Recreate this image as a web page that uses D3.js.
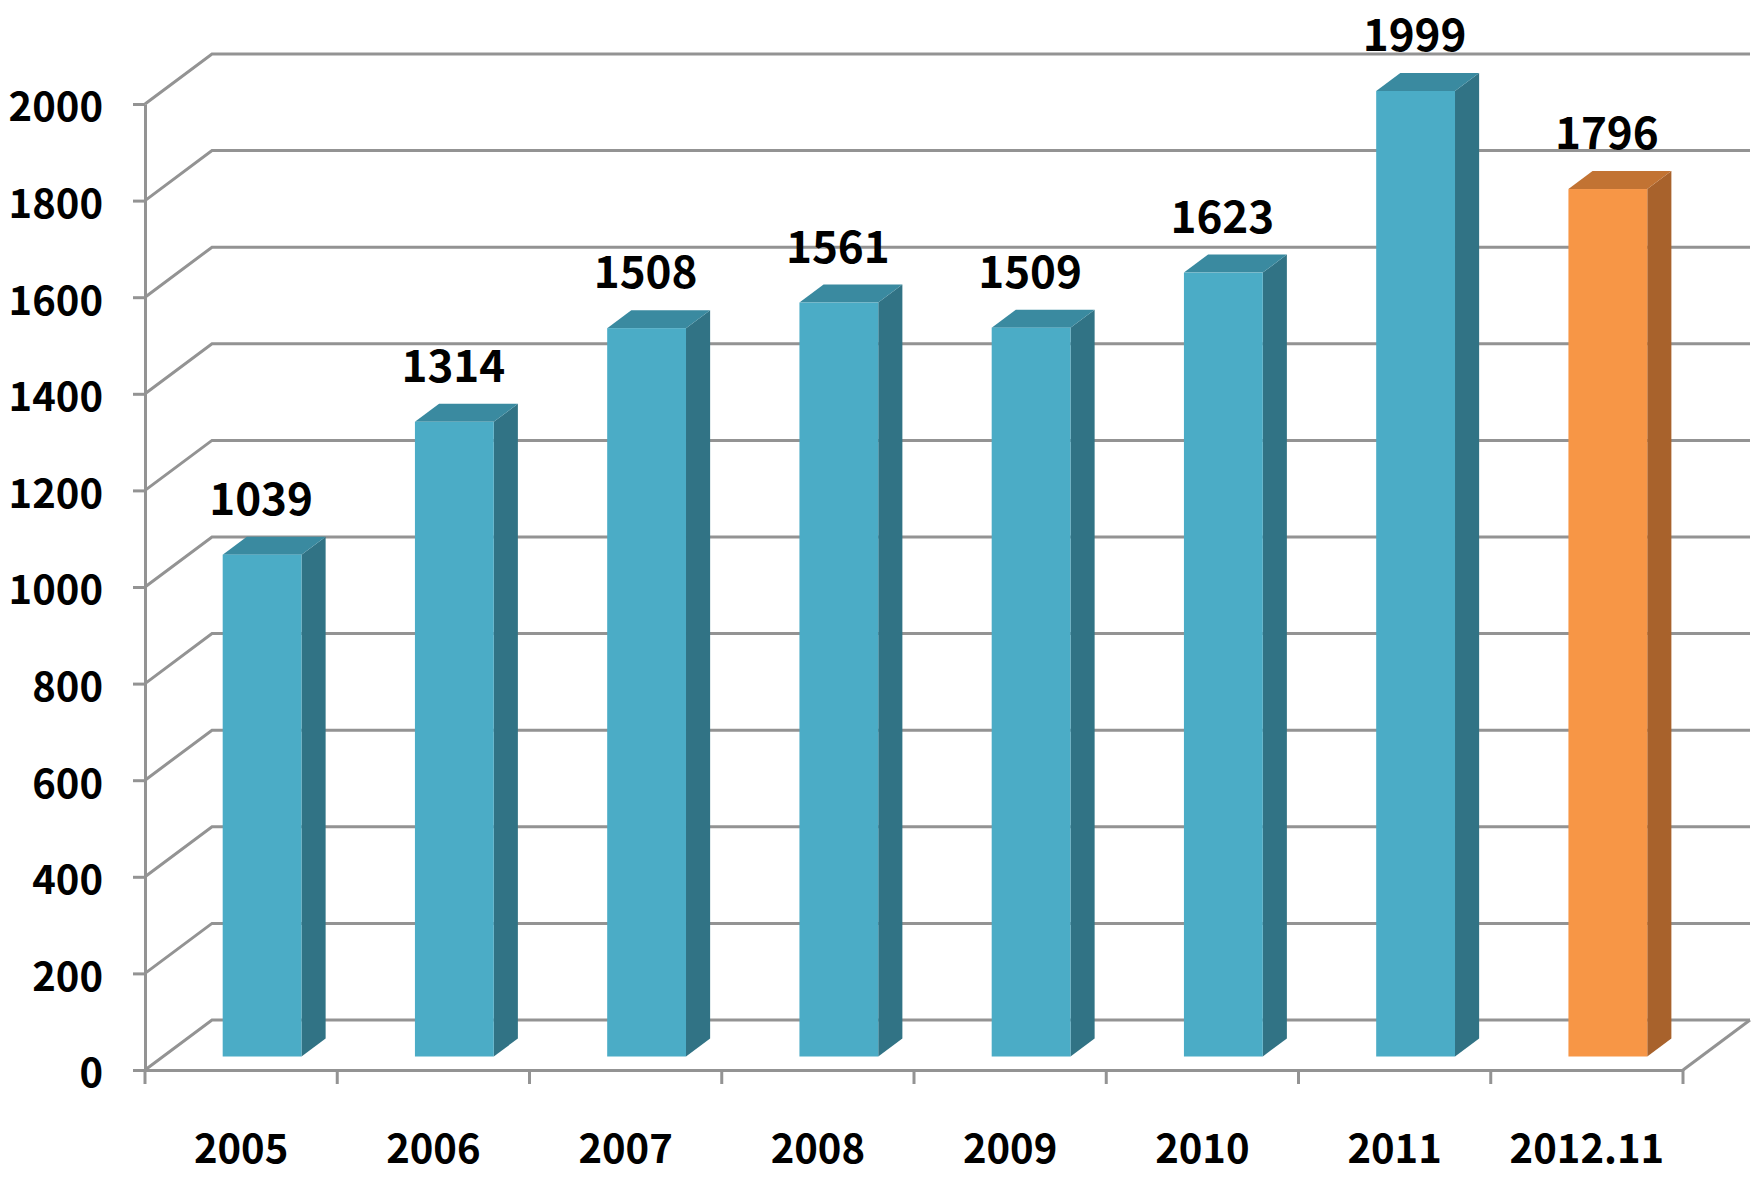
<!DOCTYPE html>
<html>
<head>
<meta charset="utf-8">
<script src="https://cdn.jsdelivr.net/npm/d3@7"></script>
<style>
  body { margin: 0; background: #fff; }
  svg { display: block; }
  text { font-family: "Noto Sans CJK KR", "Noto Sans", sans-serif; font-weight: 700; fill: #000; }
</style>
</head>
<body>
<svg id="chart" width="1763" height="1180"></svg>
<script>
const years = ['2005', '2006', '2007', '2008', '2009', '2010', '2011', '2012.11'];
const counts = [1039, 1314, 1508, 1561, 1509, 1623, 1999, 1796];
const highlighted = ['2012.11'];
const yTicks = [0, 200, 400, 600, 800, 1000, 1200, 1400, 1600, 1800, 2000];

const svg = d3.select('#chart');
const gridColor = '#939393';

// 3d depth vector for the back wall
const depth = { x: 67, y: -50 };
const zFront = 0.27, zBack = 0.63;

const x = d3.scaleBand().domain(years).range([145, 1683]).padding(0);
const y = d3.scaleLinear().domain([0, 2000]).range([1070, 104]);
const bw = x.bandwidth();

// gridlines: diagonal from front axis to back wall, then across
const grid = svg.append('g');
yTicks.forEach(t => {
  grid.append('polyline')
    .attr('points', [[x.range()[0], y(t)], [x.range()[0] + depth.x, y(t) + depth.y], [x.range()[1] + depth.x, y(t) + depth.y]].join(' '))
    .attr('fill', 'none')
    .attr('stroke', gridColor)
    .attr('stroke-width', 3);
});
// floor right edge
grid.append('line')
  .attr('x1', x.range()[1]).attr('y1', y(0))
  .attr('x2', x.range()[1] + depth.x).attr('y2', y(0) + depth.y)
  .attr('stroke', gridColor).attr('stroke-width', 3);

// bars
const colors = {
  normal: { front: '#4bacc6', side: '#317385', top: '#3a8aa0' },
  hi: { front: '#f79646', side: '#a8622c', top: '#c27333' }
};
const dz = zBack - zFront;
const bars = svg.append('g');
years.forEach((c, i) => {
  const v = counts[i];
  const col = highlighted.includes(c) ? colors.hi : colors.normal;
  const x0 = x(c) + bw * 0.31 + zFront * depth.x;
  const x1 = x0 + bw * 0.41;
  const yt = y(v) + zFront * depth.y;
  const yb = y(0) + zFront * depth.y;
  const ddx = dz * depth.x, ddy = dz * depth.y;

  bars.append('polygon')
    .attr('points', [[x1, yt], [x1 + ddx, yt + ddy], [x1 + ddx, yb + ddy], [x1, yb]].join(' '))
    .attr('fill', col.side);
  bars.append('polygon')
    .attr('points', [[x0, yt], [x0 + ddx, yt + ddy], [x1 + ddx, yt + ddy], [x1, yt]].join(' '))
    .attr('fill', col.top);
  bars.append('rect')
    .attr('x', x0).attr('y', yt)
    .attr('width', x1 - x0).attr('height', yb - yt)
    .attr('fill', col.front);

  bars.append('text')
    .attr('x', (x0 + x1) / 2 - 1)
    .attr('y', yt - 40)
    .attr('text-anchor', 'middle')
    .style('font-size', '44px')
    .text(v);
});

// y axis
const yAxis = svg.append('g')
  .attr('transform', `translate(${x.range()[0]},0)`)
  .call(d3.axisLeft(y).tickValues(yTicks).tickFormat(d3.format('d'))
    .tickSize(12).tickSizeOuter(0).tickPadding(30));
yAxis.select('.domain').attr('stroke', gridColor).attr('stroke-width', 3);
yAxis.selectAll('.tick line').attr('stroke', gridColor).attr('stroke-width', 3);
yAxis.selectAll('.tick text').attr('dy', '0.42em').style('font-size', '40px');

// x axis: line, boundary ticks, centered labels
const xAxis = svg.append('g')
  .attr('transform', `translate(0,${y(0)})`)
  .call(d3.axisBottom(x).tickSize(0).tickPadding(65));
xAxis.select('.domain').attr('stroke', gridColor).attr('stroke-width', 3);
xAxis.selectAll('.tick text').style('font-size', '40px');
const bounds = years.map(c => x(c)).concat([x.range()[1]]);
xAxis.selectAll('.bound')
  .data(bounds)
  .enter().append('line')
  .attr('class', 'bound')
  .attr('x1', d => d).attr('x2', d => d)
  .attr('y1', 0).attr('y2', 14)
  .attr('stroke', gridColor).attr('stroke-width', 3);
</script>
</body>
</html>
